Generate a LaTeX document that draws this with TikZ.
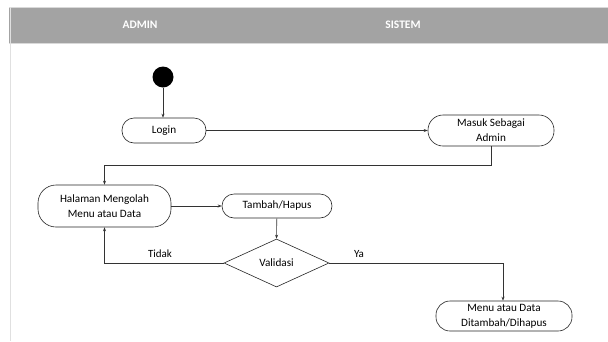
\documentclass[tikz,border=0pt]{standalone}
\usepackage{fontspec}
\setmainfont{Carlito}
\usetikzlibrary{shapes.geometric,arrows.meta}
\begin{document}
\begin{tikzpicture}[x=1pt,y=-1pt,
  act/.style={draw=black!85,line width=0.6pt,rounded corners=12pt,minimum height=#1,align=center,inner sep=1pt,font=\fontsize{11.2}{14.8}\selectfont},
  act/.default=25pt,
  dec/.style={draw=black!85,line width=0.6pt,diamond,aspect=2.2,minimum width=105pt,minimum height=48pt,inner sep=0pt,font=\fontsize{11.2}{14.8}\selectfont},
  conn/.style={draw=black!80,line width=0.6pt,-{Stealth[length=4pt,width=3pt]}},
  lbl/.style={font=\fontsize{11}{13}\selectfont}]
\useasboundingbox (0,0) rectangle (608,341);
\fill[white] (0,0) rectangle (608,341);
% swimlane header
\fill[black!36] (9,7) rectangle (608,43);
\draw[black!15,line width=0.8pt] (9,7) -- (608,7);
\draw[black!15,line width=1pt] (9,43) -- (608,43);
\draw[black!12,line width=0.8pt] (10,7) -- (10,341);
\node[font=\bfseries\fontsize{11.5}{12}\selectfont,text=white] (hadmin) at (140,25) {ADMIN};
\node[font=\bfseries\fontsize{11.5}{12}\selectfont,text=white] (hsistem) at (403,25) {SISTEM};
% nodes
\node[circle,fill=black,minimum size=21pt,inner sep=0pt] (start) at (163,77) {};
\node[act, minimum width=84pt] (login) at (164,130.5) {Login};
\node[act=31pt, minimum width=126pt,rounded corners=15pt] (masuk) at (491,130.5) {Masuk Sebagai\\Admin};
\node[act=42pt, minimum width=133pt,rounded corners=18pt] (halaman) at (104.5,206) {Halaman Mengolah\\Menu atau Data};
\node[act=24pt, minimum width=110pt] (tambah) at (277,206) {Tambah/Hapus};
\node[dec] (valid) at (276.5,263) {Validasi};
\node[act=30pt, minimum width=136pt,rounded corners=14pt] (menu) at (504,316) {Menu atau Data\\Ditambah/Dihapus};
\coordinate (c1) at (491,165);
\coordinate (c2) at (104.5,165);
\coordinate (c3) at (104.5,263);
\coordinate (c4) at (503,263);
% connectors
\draw[conn] (start) -- (start |- login.north);
\draw[conn] (login) -- (masuk);
\draw[conn] (masuk.south) -- (c1) -- (c2) -- (halaman.north);
\draw[conn] (halaman) -- (tambah);
\draw[conn] (tambah) -- (valid.north);
\draw[conn] (valid.west) -- (c3) -- (halaman.south);
\draw[conn] (valid.east) -- (c4) -- (c4 |- menu.north);
\node[lbl] (ltidak) at (160,254) {Tidak};
\node[lbl] (lya) at (359,254) {Ya};
\end{tikzpicture}
\end{document}
